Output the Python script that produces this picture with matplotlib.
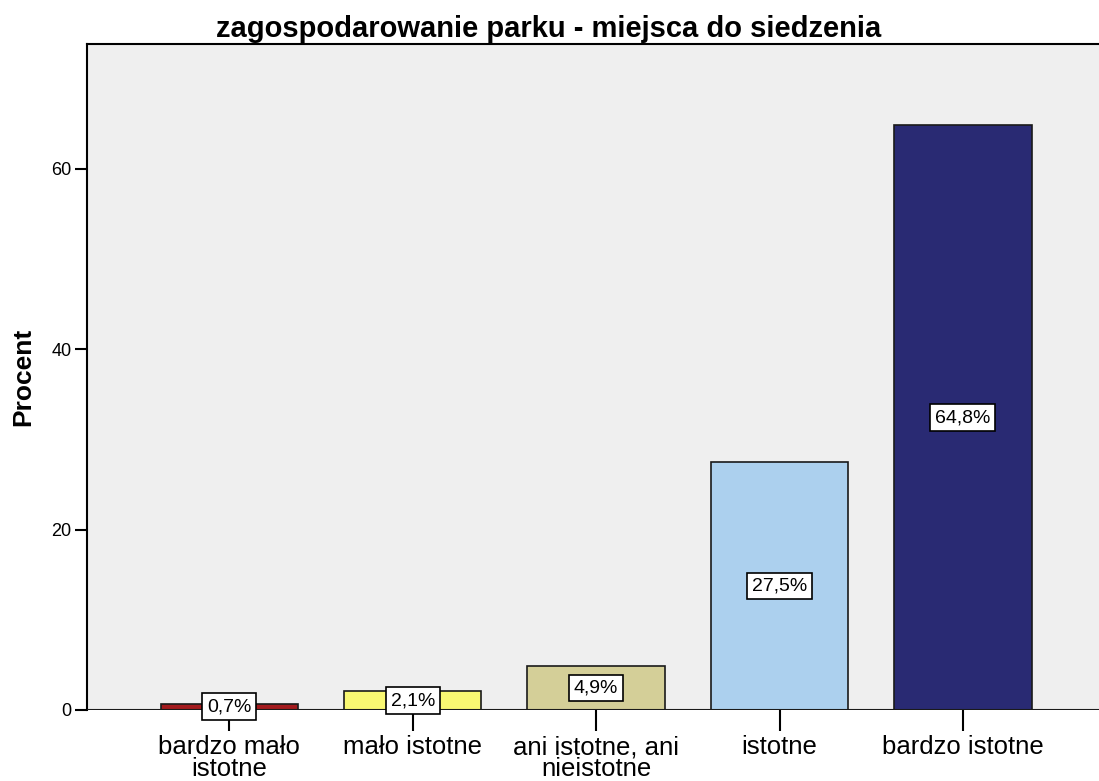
import numpy as np
import matplotlib.pyplot as plt

plt.rcParams['font.family'] = ['Liberation Sans', 'DejaVu Sans']

# odpowiedzi i udzialy procentowe
kategorie = ['bardzo mało\nistotne', 'mało istotne', 'ani istotne, ani\nnieistotne',
             'istotne', 'bardzo istotne']
procent = [0.7, 2.1, 4.9, 27.5, 64.8]
etykiety = ['0,7%', '2,1%', '4,9%', '27,5%', '64,8%']
kolory = ['#a31a1d', '#f9f872', '#d4cf98', '#acd0ee', '#292a73']

fig = plt.figure(figsize=(10.99, 7.81), dpi=100)
ax = fig.add_axes([87 / 1099, 71 / 781, 1 - 87 / 1099 + 0.002, 666 / 781])
ax.set_facecolor('#efefef')

x = np.arange(len(procent))
ax.bar(x, procent, width=0.75, color=kolory, edgecolor='#1a1a1a', linewidth=1.2, zorder=3)

for xi, v, t in zip(x, procent, etykiety):
    ax.text(xi, v / 2, t, ha='center', va='center', fontsize=14, zorder=5,
            bbox=dict(boxstyle='square,pad=0.25', fc='white', ec='black', lw=1.2))

ax.set_xlim(-0.776, 4.754)
ax.set_ylim(0, 73.8)
ax.set_yticks([0, 20, 40, 60])
ax.set_xticks(x)
ax.set_xticklabels(kategorie, fontsize=18.5, linespacing=0.88)
ax.tick_params(axis='y', labelsize=13, length=9, width=1.5, pad=2)
ax.tick_params(axis='x', length=15, width=1.5, pad=3)

for s in ['right', 'bottom']:
    ax.spines[s].set_visible(False)
ax.spines['left'].set_linewidth(1.5)
ax.spines['top'].set_linewidth(1.5)
ax.axhline(0, color='#1a1a1a', lw=1.5, zorder=4)

ax.set_ylabel('Procent', fontsize=19, fontweight='bold', labelpad=12)
ax.set_title('zagospodarowanie parku - miejsca do siedzenia', fontsize=21,
             fontweight='bold', x=(548 - 87) / 1012, pad=5)

fig.savefig('out.png', dpi=100)
